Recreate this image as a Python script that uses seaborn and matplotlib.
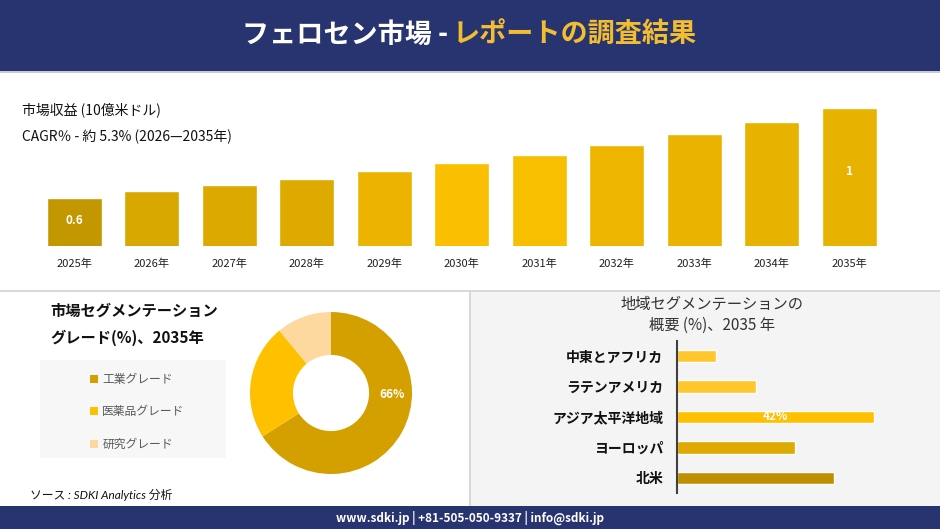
import matplotlib
matplotlib.use("Agg")
import matplotlib.pyplot as plt
from matplotlib.patches import Rectangle, Patch
import seaborn as sns
import pandas as pd

sns.set_theme(style="white")
plt.rcParams['font.family'] = ['Noto Sans CJK JP', 'DejaVu Sans']

# ---------------- data ----------------
years = ["2025年", "2026年", "2027年", "2028年", "2029年", "2030年",
         "2031年", "2032年", "2033年", "2034年", "2035年"]
revenue = [0.6, 0.631, 0.658, 0.685, 0.72, 0.756, 0.791, 0.836, 0.885, 0.938, 1.0]
revenue_labels = {0: "0.6", 10: "1"}
year_colors = ["#C39700", "#D9A800", "#DBA900", "#DEAA00", "#ECB400", "#FAC000",
               "#F8BE00", "#EDB500", "#EAB300", "#E8B200", "#E8B200"]

grades = ["工業グレード", "医薬品グレード", "研究グレード"]
grade_share = [66, 23, 11]
grade_colors = ["#D4A000", "#FFC000", "#FDD9A0"]

regions = ["中東とアフリカ", "ラテンアメリカ", "アジア太平洋地域", "ヨーロッパ", "北米"]
region_share = [8.3, 16.8, 42, 25.2, 33.5]
region_colors = ["#FFC72C", "#FFC72C", "#FFC000", "#DEA900", "#BF8F00"]

W, H = 940, 529
NAVY = "#283470"

fig = plt.figure(figsize=(W / 100, H / 100), dpi=100)
fig.patch.set_facecolor("white")


def ax_px(x0, y0, x1, y1, **kw):
    return fig.add_axes([x0 / W, 1 - y1 / H, (x1 - x0) / W, (y1 - y0) / H], **kw)


def rect_px(x0, y0, x1, y1, color, z=-5):
    fig.patches.append(Rectangle((x0 / W, 1 - y1 / H), (x1 - x0) / W, (y1 - y0) / H,
                                 transform=fig.transFigure, facecolor=color,
                                 edgecolor="none", zorder=z))


def fx(x):
    return x / W


def fy(y):
    return 1 - y / H


# ---------------- header / footer / panels ----------------
rect_px(0, 0, W, 71, NAVY)
rect_px(0, 71, W, 73, "#C9CCD8")
rect_px(0, 506, W, H, NAVY)
rect_px(0, 290, W, 292, "#D9D9D9")
rect_px(471, 292, W, 506, "#F4F4F4")
rect_px(469, 292, 471, 506, "#D9D9D9")
rect_px(40, 360, 226, 458, "#F7F7F7")

fig.text(fx(448), fy(35), "フェロセン市場 -", color="white", fontsize=19.5,
         fontweight="bold", ha="right", va="center")
fig.text(fx(453), fy(35), "レポートの調査結果", color="#F2BE30", fontsize=19.5,
         fontweight="bold", ha="left", va="center")

fig.text(fx(470), fy(518), "www.sdki.jp | +81-505-050-9337 | info@sdki.jp",
         color="white", fontsize=8.5, fontweight="bold", ha="center", va="center")

# ---------------- top bar chart ----------------
fig.text(fx(22), fy(110), "市場収益 (10億米ドル)", fontsize=10, color="#111111",
         ha="left", va="center")
fig.text(fx(22), fy(137), "CAGR％ - 約 5.3% (2026—2035年)", fontsize=10,
         color="#111111", ha="left", va="center")

ax1 = ax_px(35.75, 80, 887.75, 246)
df1 = pd.DataFrame({"year": years, "rev": revenue})
sns.barplot(data=df1, x="year", y="rev", hue="year", palette=year_colors,
            legend=False, width=0.71, ax=ax1, saturation=1)
ybot = 0.387
ax1.set_ylim(ybot, ybot + 166 / 225)
ax1.set_xlim(-0.5, len(years) - 0.5)
ax1.set_facecolor("none")
for s in ax1.spines.values():
    s.set_visible(False)
ax1.set_yticks([])
ax1.set_xlabel("")
ax1.set_ylabel("")
ax1.tick_params(axis="x", length=0, pad=9, labelsize=8, labelcolor="#222222")
for i, lab in revenue_labels.items():
    ax1.text(i, ybot + 0.54 * (revenue[i] - ybot), lab, color="white",
             fontsize=8.5, fontweight="bold", ha="center", va="center")

# ---------------- donut ----------------
fig.text(fx(50), fy(311), "市場セグメンテーション", fontsize=11, fontweight="bold",
         color="#111111", ha="left", va="center")
fig.text(fx(50), fy(338), "グレード(%)、2035年", fontsize=11, fontweight="bold",
         color="#111111", ha="left", va="center")

ax2 = ax_px(250, 312, 412, 474)
wedges, _ = ax2.pie(grade_share, colors=grade_colors, startangle=90,
                    counterclock=False, radius=1,
                    wedgeprops=dict(width=0.53, edgecolor="none"))
ax2.set_xlim(-1, 1)
ax2.set_ylim(-1, 1)
ax2.set_aspect("equal")
ax2.text(0.755, -0.02, f"{grade_share[0]}%", color="white", fontsize=8.5,
         fontweight="bold", ha="center", va="center")

handles = [Patch(facecolor=c, edgecolor="none") for c in grade_colors]
leg = fig.legend(handles, grades, loc="upper left",
                 bbox_to_anchor=(fx(84), fy(367)), frameon=False,
                 handlelength=0.65, handleheight=0.65, handletextpad=0.4,
                 labelspacing=1.65, borderpad=0, fontsize=8.5)
for t in leg.get_texts():
    t.set_color("#595959")

fig.text(fx(30), fy(495), "ソース : SDKI Analytics 分析", fontsize=8.5,
         style="italic", family=["Lato", "Noto Sans CJK JP"], color="#111111",
         ha="left", va="center")

# ---------------- region bars ----------------
fig.text(fx(712), fy(315), "地域セグメンテーションの\n概要 (%)、2035 年", fontsize=11,
         color="#333333", ha="center", va="center", linespacing=1.3)

ax3 = ax_px(677, 340.75, 911.5, 493.25)
df3 = pd.DataFrame({"region": regions, "share": region_share})
sns.barplot(data=df3, x="share", y="region", hue="region", palette=region_colors,
            legend=False, orient="h", width=0.42, ax=ax3, saturation=1)
ax3.set_xlim(0, 50)
ax3.set_ylim(len(regions) - 0.5, -0.5)
ax3.set_facecolor("none")
for k, s in ax3.spines.items():
    s.set_visible(k == "left")
ax3.spines["left"].set_color("#404040")
ax3.spines["left"].set_linewidth(1.5)
ax3.set_xticks([])
ax3.set_xlabel("")
ax3.set_ylabel("")
ax3.tick_params(axis="y", length=0, pad=10, labelsize=10)
for t in ax3.get_yticklabels():
    t.set_fontweight("bold")
    t.set_color("#111111")
imax = region_share.index(max(region_share))
ax3.text(region_share[imax] / 2, imax, f"{region_share[imax]:g}%", color="white",
         fontsize=8.5, fontweight="bold", ha="center", va="center")

fig.savefig("out.png", dpi=100)
